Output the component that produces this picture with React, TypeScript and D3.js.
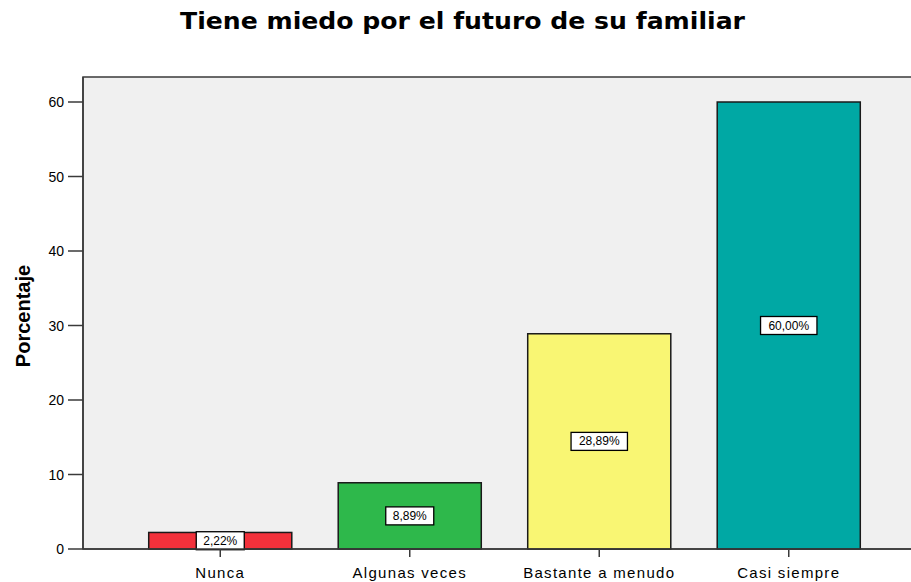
import * as d3 from "d3"

const categories = ["Nunca", "Algunas veces", "Bastante a menudo", "Casi siempre"]
const values = [2.22, 8.89, 28.89, 60.0]
const colors = ["#f2313b", "#2eb84b", "#f9f673", "#00a8a4"]
const yTicks = [0, 10, 20, 30, 40, 50, 60]

export default function App() {
    const width = 911
    const height = 582
    const plotLeft = 83
    const plotTop = 77
    const plotBottom = 549

    const x = d3.scaleBand<string>()
        .domain(categories)
        .range([125.5, 883.5])
        .paddingInner(0.245)
        .paddingOuter(0.1225)

    const y = d3.scaleLinear()
        .domain([0, 60])
        .range([plotBottom, 102])

    const fmt = (v: number) => v.toFixed(2).replace(".", ",") + "%"

    return (
        <svg width={width} height={height}
            style={{ position: "absolute", left: 0, top: 0, fontFamily: "Arial, 'Liberation Sans', sans-serif" }}>
            <rect x={0} y={0} width={width} height={height} fill="#fff" />
            <text x={180} y={29} fontSize={23} fontWeight="bold" fontFamily="'DejaVu Sans', sans-serif"
                textLength={565} lengthAdjust="spacingAndGlyphs" fill="#000">
                Tiene miedo por el futuro de su familiar
            </text>

            <rect x={plotLeft} y={plotTop} width={width - plotLeft + 5} height={plotBottom - plotTop}
                fill="#f0f0f0" stroke="#3a3a3a" strokeWidth={1.5} />

            {categories.map((c, i) => (
                <rect key={c} x={x(c)} y={y(values[i])} width={x.bandwidth()}
                    height={plotBottom - y(values[i])} fill={colors[i]}
                    stroke="#1a1a1a" strokeWidth={1.5} />
            ))}

            {categories.map((c, i) => {
                const cx = (x(c) ?? 0) + x.bandwidth() / 2
                const cy = (y(values[i]) + plotBottom) / 2
                const label = fmt(values[i])
                const w = label.length * 8.4 + 6
                return (
                    <g key={c + "l"}>
                        <rect x={cx - w / 2} y={cy - 9} width={w} height={18}
                            fill="#fff" stroke="#000" strokeWidth={1.3} />
                        <text x={cx} y={cy + 4} textAnchor="middle" fontSize={12} fill="#000">{label}</text>
                    </g>
                )
            })}

            <line x1={plotLeft} x2={width} y1={plotBottom} y2={plotBottom} stroke="#3a3a3a" strokeWidth={1.5} />
            <line x1={plotLeft} x2={plotLeft} y1={plotTop} y2={plotBottom} stroke="#3a3a3a" strokeWidth={1.5} />

            {yTicks.map(t => (
                <g key={t}>
                    <line x1={68} x2={plotLeft} y1={y(t)} y2={y(t)} stroke="#3a3a3a" strokeWidth={1.5} />
                    <text x={64} y={y(t) + 5} textAnchor="end" fontSize={14} fill="#000">{t}</text>
                </g>
            ))}

            {categories.map(c => {
                const cx = (x(c) ?? 0) + x.bandwidth() / 2
                return (
                    <g key={c + "t"}>
                        <line x1={cx} x2={cx} y1={plotBottom} y2={plotBottom + 8} stroke="#3a3a3a" strokeWidth={1.5} />
                        <text x={cx} y={578} textAnchor="middle" fontSize={15} letterSpacing={1.3} fill="#000">{c}</text>
                    </g>
                )
            })}

            <text transform="translate(30,316) rotate(-90)" textAnchor="middle" fontSize={20}
                fontWeight="bold" fill="#000">Porcentaje</text>
        </svg>
    )
}
